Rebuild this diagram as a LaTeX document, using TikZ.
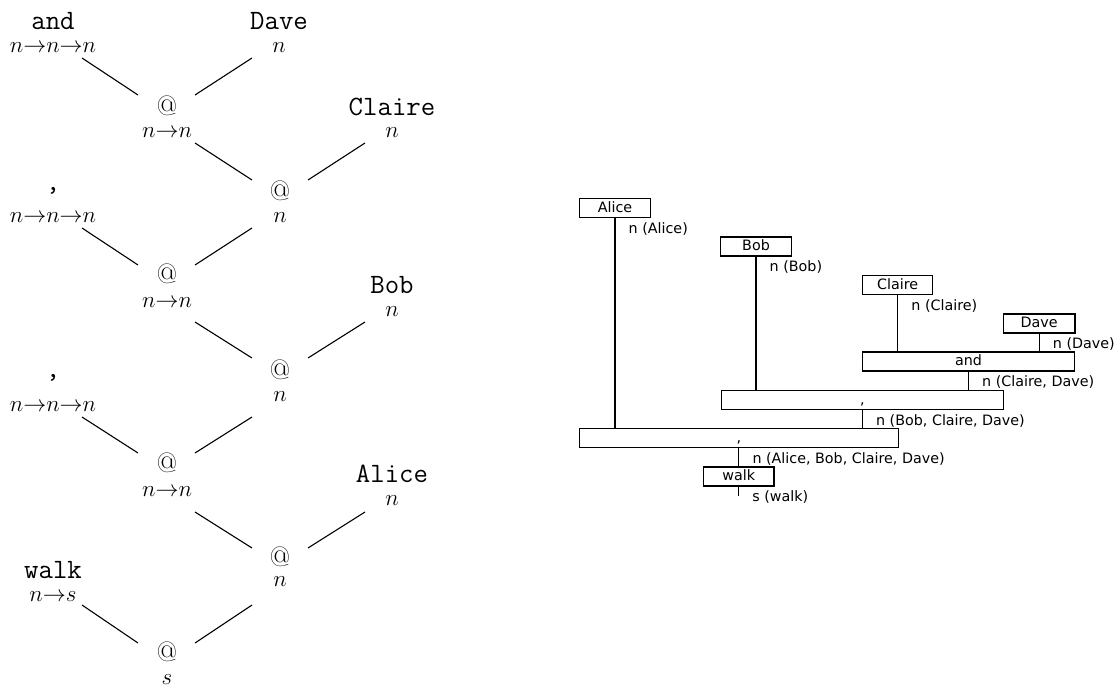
\RequirePackage{fix-cm}
\documentclass[tikz,border=0pt]{standalone}
\usepackage{fontspec}
\newfontfamily\dejavu{DejaVu Sans}
\usetikzlibrary{calc}
\newcommand\tn[7]{% name, x, label y, type y, style, label, type
  \node[#5] (#1-l) at (#2,#3) {#6};
  \node[typ] (#1-t) at (#2,#4) {$#7$};}
\newcommand\tedge[6]{\draw[edge] ([shift={(#3,#4)}]#1-t.center) -- ([shift={(#5,#6)}]#2-l.center);}
\begin{document}
\begin{tikzpicture}[x=1pt,y=-1pt,
  lbl/.style={font=\fontsize{28}{30}\selectfont\ttfamily, inner sep=0pt},
  atl/.style={font=\fontencoding{OT1}\fontfamily{cmr}\fontsize{28}{30}\selectfont, inner sep=0pt},
  typ/.style={font=\fontsize{23}{26}\selectfont, inner sep=0pt},
  edge/.style={line width=1.1pt},
  box/.style={draw, line width=1.3pt, font=\fontsize{14.3}{16}\selectfont\dejavu,
    minimum height=19pt, text height=10.5pt, text depth=2.5pt, inner sep=0pt},
  ann/.style={font=\fontsize{14.3}{16}\selectfont\dejavu, anchor=west, inner sep=0pt},
  conn/.style={line width=1.3pt}]
\useasboundingbox (0,0) rectangle (1116,687);
% ---------- left tree ----------
\tn{and}{53}{21.5}{48}{lbl}{and}{n{\to}n{\to}n}
\tn{dave}{279}{21.5}{48}{lbl}{Dave}{n}
\tn{a1}{167}{106}{133}{atl}{@}{n{\to}n}
\tn{claire}{392}{106.5}{133}{lbl}{Claire}{n}
\tn{a2}{280}{191}{218}{atl}{@}{n}
\tn{cm1}{53}{191}{218}{lbl}{,}{n{\to}n{\to}n}
\tn{a3}{167}{273.5}{302.5}{atl}{@}{n{\to}n}
\tn{bob}{392}{285}{312}{lbl}{Bob}{n}
\tn{a4}{280}{370}{397}{atl}{@}{n}
\tn{cm2}{53}{377.5}{407}{lbl}{,}{n{\to}n{\to}n}
\tn{a5}{167}{462.5}{492}{atl}{@}{n{\to}n}
\tn{alice}{392}{474}{501}{lbl}{Alice}{n}
\tn{a6}{280}{557}{582}{atl}{@}{n}
\tn{walk}{53}{570}{597}{lbl}{walk}{n{\to}s}
\tn{a7}{167}{652}{680}{atl}{@}{s}
\tedge{and}{a1}{29}{10}{-29}{-11}
\tedge{dave}{a1}{-27}{10}{28}{-11}
\tedge{a1}{a2}{28}{10}{-28}{-11}
\tedge{claire}{a2}{-27}{10}{28}{-11}
\tedge{cm1}{a3}{29}{10}{-29}{-8.5}
\tedge{a2}{a3}{-28}{10}{28}{-8.5}
\tedge{a3}{a4}{28}{19.5}{-28}{-12}
\tedge{bob}{a4}{-27}{10}{28}{-12}
\tedge{cm2}{a5}{29}{10}{-29}{-9.5}
\tedge{a4}{a5}{-28}{20}{28}{-9.5}
\tedge{a5}{a6}{28}{20}{-28}{-9}
\tedge{alice}{a6}{-27}{11}{28}{-9}
\tedge{walk}{a7}{29}{8}{-29}{-9}
\tedge{a6}{a7}{-28}{23}{28}{-9}
% ---------- right diagram ----------
\node[box, minimum width=71.4pt] (ralice) at (615,208) {Alice};
\node[box, minimum width=71pt] (rbob) at (756,246.5) {Bob};
\node[box, minimum width=70pt] (rclaire) at (897.7,285) {Claire};
\node[box, minimum width=71.7pt] (rdave) at (1039.2,323.5) {Dave};
\node[box, minimum width=212.3pt] (rand) at (968.5,361.6) {and};
\node[box, minimum width=282.3pt] (rc2) at (862.4,400) {,};
\node[box, minimum width=319pt] (rc1) at (738.8,438.3) {,};
\node[box, minimum width=70.7pt] (rwalk) at (738.7,476.5) {walk};
\draw[conn] (ralice.south) -- (ralice.south |- rc1.north);
\draw[conn] (rbob.south) -- (rbob.south |- rc2.north);
\draw[conn] (rclaire.south) -- (rclaire.south |- rand.north);
\draw[conn] (rdave.south) -- (rdave.south |- rand.north);
\draw[conn] (rand.south) -- (rand.south |- rc2.north);
\draw[conn] (rc2.south) -- (rc2.south |- rc1.north);
\draw[conn] (rc1.south) -- (rc1.south |- rwalk.north);
\coordinate (rend) at ($(rwalk.south)+(0,9)$);
\draw[conn] (rwalk.south) -- (rend);
\node[ann] (lalice) at ([shift={(13.5,10.5)}]ralice.south) {n (Alice)};
\node[ann] (lbob) at ([shift={(13.5,10.5)}]rbob.south) {n (Bob)};
\node[ann] (lclaire) at ([shift={(13.5,10.5)}]rclaire.south) {n (Claire)};
\node[ann] (ldave) at ([shift={(13.5,10.5)}]rdave.south) {n (Dave)};
\node[ann] (land) at ([shift={(13.5,10.5)}]rand.south) {n (Claire, Dave)};
\node[ann] (lc2) at ([shift={(13.5,10.5)}]rc2.south) {n (Bob, Claire, Dave)};
\node[ann] (lc1) at ([shift={(13.5,10.5)}]rc1.south) {n (Alice, Bob, Claire, Dave)};
\node[ann] (lwalk) at ([shift={(13.5,10.5)}]rwalk.south) {s (walk)};
\end{tikzpicture}
\end{document}
